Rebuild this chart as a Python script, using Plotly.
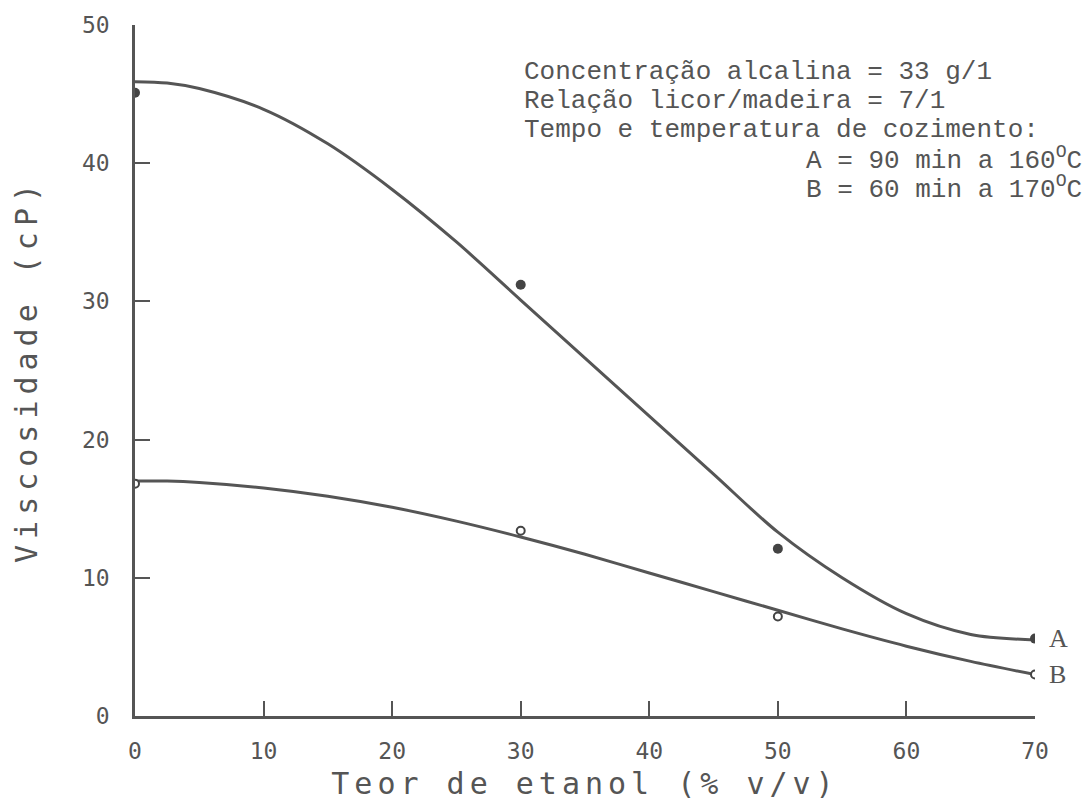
import plotly.graph_objects as go

# Measured points
ethanol = [0, 30, 50, 70]
visc_A = [45.1, 31.2, 12.1, 5.6]
visc_B = [16.8, 13.4, 7.2, 3.0]

# Fitted curves
curve_x = [0, 2.5, 5, 10, 15, 20, 25, 30, 35, 40, 45, 50, 55, 60, 65, 70]
curve_A = [45.9, 45.8, 45.4, 43.9, 41.4, 38.1, 34.3, 30.1, 25.9, 21.7, 17.5, 13.3, 10.0, 7.4, 5.9, 5.5]
curve_B = [17.0, 17.0, 16.9, 16.5, 15.9, 15.1, 14.1, 12.95, 11.7, 10.35, 9.0, 7.65, 6.3, 5.05, 3.95, 3.0]

x_ticks = [0, 10, 20, 30, 40, 50, 60, 70]
y_ticks = [0, 10, 20, 30, 40, 50]

info_lines = [
    "Concentração alcalina = 33 g/1",
    "Relação licor/madeira = 7/1",
    "Tempo e temperatura de cozimento:",
]
cond_lines = [
    "A = 90 min a 160<sup>O</sup>C",
    "B = 60 min a 170<sup>O</sup>C",
]
series_labels = ["A", "B"]

INK = "#555555"
MONO = "DejaVu Sans Mono"
TYPE = "Liberation Mono"


def spaced(t, px):
    return '<span style="letter-spacing:%dpx">%s</span>' % (px, t)


fig = go.Figure()
for cy in (curve_A, curve_B):
    fig.add_trace(go.Scatter(x=curve_x, y=cy, mode="lines",
                             line=dict(color=INK, width=3, shape="spline", smoothing=0.9),
                             showlegend=False, hoverinfo="skip"))
fig.add_trace(go.Scatter(x=ethanol, y=visc_A, mode="markers",
                         marker=dict(symbol="circle", size=10, color="#444444"),
                         showlegend=False))
fig.add_trace(go.Scatter(x=ethanol, y=visc_B, mode="markers",
                         marker=dict(symbol="circle", size=8, color="white",
                                     line=dict(color="#444444", width=2)),
                         showlegend=False))

annotations = []
info_y = [46.6, 44.5, 42.4]
for txt, yy in zip(info_lines, info_y):
    annotations.append(dict(x=30.1, y=yy, xref="x", yref="y", text=txt, showarrow=False,
                            xanchor="left", yanchor="middle",
                            font=dict(family=TYPE, size=26, color=INK)))
cond_y = [40.3, 38.2]
for txt, yy in zip(cond_lines, cond_y):
    annotations.append(dict(x=1.054, y=yy, xref="paper", yref="y", text=txt, showarrow=False,
                            xanchor="right", yanchor="middle",
                            font=dict(family=TYPE, size=26, color=INK)))
for lab, yy in zip(series_labels, [visc_A[-1], visc_B[-1]]):
    annotations.append(dict(x=ethanol[-1], y=yy, xref="x", yref="y", text=lab, showarrow=False,
                            xanchor="left", yanchor="middle", xshift=12,
                            font=dict(family="Liberation Serif", size=26, color=INK)))

axis_common = dict(ticks="inside", ticklen=15, tickwidth=2, tickcolor=INK,
                   showline=True, linecolor=INK, linewidth=2.5,
                   showgrid=False, zeroline=False, automargin=False,
                   tickfont=dict(family=MONO, size=23, color=INK))

fig.update_layout(
    width=1088, height=805,
    margin=dict(l=135, r=53, t=25, b=89),
    paper_bgcolor="white", plot_bgcolor="white",
    annotations=annotations,
    xaxis=dict(range=[0, 70], tickvals=x_ticks, ticklabelstandoff=13, **axis_common,
               title=dict(text=spaced("Teor de etanol (% v/v)", 5),
                          font=dict(family=MONO, size=30, color=INK), standoff=10)),
    yaxis=dict(range=[0, 50], tickvals=y_ticks, ticklabelstandoff=18, **axis_common,
               title=dict(text=spaced("Viscosidade (cP)", 6),
                          font=dict(family=MONO, size=30, color=INK), standoff=36)),
)

fig.write_html("out.html")
